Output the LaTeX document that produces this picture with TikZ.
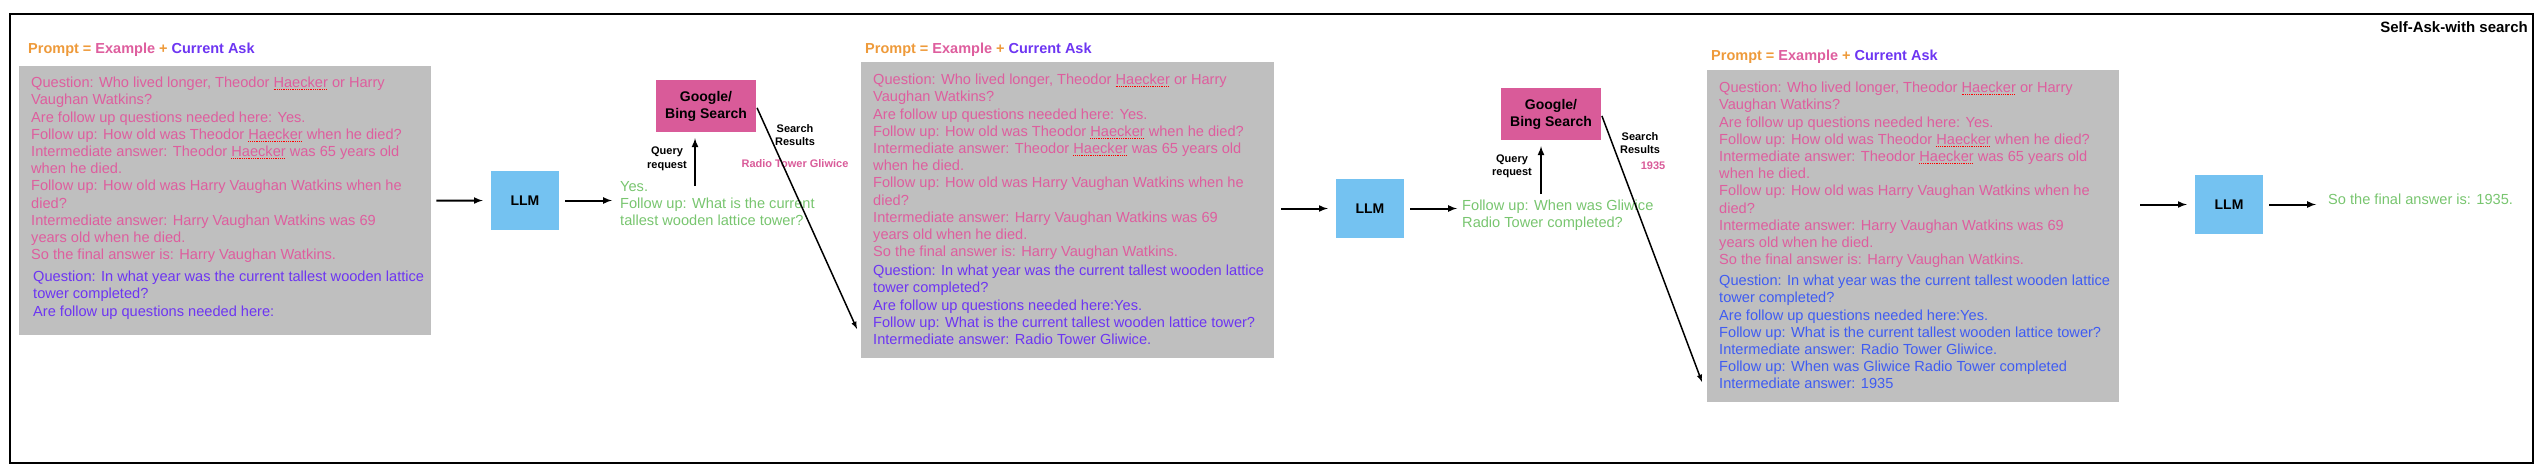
\documentclass[tikz,border=0pt]{standalone}
\usepackage{fontspec}
\setmainfont{Liberation Sans}
\usetikzlibrary{arrows, positioning, calc}

\definecolor{boxgray}{HTML}{BFBFBF}
\definecolor{examplepink}{HTML}{DE5E9E}
\definecolor{searchpink}{HTML}{D95B99}
\definecolor{askpurple}{HTML}{6D35F2}
\definecolor{askblue}{HTML}{3F5CF2}
\definecolor{answergreen}{HTML}{78C56F}
\definecolor{promptorange}{HTML}{EE9A3A}
\definecolor{llmblue}{HTML}{74C2F1}

\tikzset{
    promptBox/.style={rectangle, fill=boxgray, anchor=north west, inner sep=0pt},
    llmBox/.style={rectangle, fill=llmblue, minimum width=68pt, minimum height=59pt, inner sep=0pt, font=\fontsize{14}{17}\selectfont\bfseries},
    searchBox/.style={rectangle, fill=searchpink, minimum width=100pt, minimum height=52pt, inner sep=0pt, align=center, font=\fontsize{14}{17}\selectfont\bfseries},
    headText/.style={anchor=west, inner sep=0pt, font=\fontsize{14.5}{18}\selectfont\bfseries},
    titleText/.style={anchor=east, inner sep=0pt, font=\fontsize{15}{18}\selectfont\bfseries},
    bodyText/.style={anchor=north west, align=left, inner sep=0pt, font=\fontsize{14.6}{17.2}\selectfont},
    edgeText/.style={align=center, inner sep=0pt, font=\fontsize{11}{13.5}\selectfont\bfseries},
    flowEdge/.style={->, >=latex, line width=2pt},
    resultEdge/.style={->, >=latex, line width=1.5pt},
}
\newcommand{\drawFlow}[3][]{
    \draw[flowEdge, #1] (#2) -- (#3);
}
\newcommand{\drawQuery}[2]{
    \draw[flowEdge, shorten >=6pt] (#1) -- (#1 |- #2.south);
}
\newcommand{\drawResult}[2]{
    \draw[resultEdge, shorten <=2pt] (#1.east) -- (#2);
}
\newcommand{\promptHead}{{\color{promptorange}Prompt =} {\color{examplepink}Example} {\color{promptorange}+} {\color{askpurple}Current Ask}}
% red dotted mark under the surname
\newsavebox{\spellbox}
\newcommand{\spellmark}[1]{\sbox{\spellbox}{#1}\rlap{\lower2.5pt\hbox to\wd\spellbox{\color{red}\leaders\hbox{\rule{1pt}{0.8pt}\kern0.8pt}\hfill}}\usebox{\spellbox}}
\newcommand{\exampleText}{Question: Who lived longer, Theodor \spellmark{Haecker} or Harry\\
Vaughan Watkins?\\
Are follow up questions needed here: Yes.\\
Follow up: How old was Theodor \spellmark{Haecker} when he died?\\
Intermediate answer: Theodor \spellmark{Haecker} was 65 years old\\
when he died.\\
Follow up: How old was Harry Vaughan Watkins when he\\
died?\\
Intermediate answer: Harry Vaughan Watkins was 69\\
years old when he died.\\
So the final answer is: Harry Vaughan Watkins.}
\newcommand{\askText}{Question: In what year was the current tallest wooden lattice\\
tower completed?\\
Are follow up questions needed here:}

\begin{document}
\begin{tikzpicture}[x=1pt, y=-1pt]
    \useasboundingbox (0,0) rectangle (2544,474);
    \draw[line width=2.5pt] (10,14) rectangle (2533,463);
    \node[titleText] (title) at (2528,27) {Self-Ask-with search};

    % step 1
    \node[headText] (head1) at (28,50) {\promptHead};
    \node[promptBox, minimum width=412pt, minimum height=269pt] (box1) at (19,66) {};
    \node[bodyText, text=examplepink] (ex1) at (31,77) {\exampleText};
    \node[bodyText, text=askpurple] (ask1) at (33,271) {\askText};
    \node[llmBox] (llm1) at (525,200.5) {LLM};
    \node[bodyText, text=answergreen] (ans1) at (620,181) {Yes.\\Follow up: What is the current\\tallest wooden lattice tower?};
    \node[searchBox] (search1) at (706,106) {Google/\\Bing Search};
    \coordinate (query1) at (695,186);
    \coordinate (result1) at (857,329);
    \node[edgeText] (qlabel1) at (667,159) {Query\\request};
    \node[edgeText] (rlabel1) at (795,135) {Search\\Results};
    \node[edgeText, text=searchpink] (rtext1) at (795,164) {Radio Tower Gliwice};

    \drawFlow[shorten <=5pt, shorten >=8pt]{box1}{llm1}
    \drawFlow[shorten <=6pt, shorten >=8pt]{llm1}{llm1 -| ans1.west}
    \drawQuery{query1}{search1}
    \drawResult{search1}{result1}

    % step 2
    \node[headText] (head2) at (865,50) {\promptHead};
    \node[promptBox, minimum width=413pt, minimum height=296pt] (box2) at (861,62) {};
    \node[bodyText, text=examplepink] (ex2) at (873,74) {\exampleText};
    \node[bodyText, text=askpurple] (ask2) at (873,265) {\askText Yes.\\
        Follow up: What is the current tallest wooden lattice tower?\\
        Intermediate answer: Radio Tower Gliwice.};
    \node[llmBox] (llm2) at (1370,208.5) {LLM};
    \node[bodyText, text=answergreen] (ans2) at (1462,200) {Follow up: When was Gliwice\\Radio Tower completed?};
    \node[searchBox] (search2) at (1551,114) {Google/\\Bing Search};
    \coordinate (query2) at (1541,194);
    \coordinate (result2) at (1702,382);
    \node[edgeText] (qlabel2) at (1512,166.5) {Query\\request};
    \node[edgeText] (rlabel2) at (1640,143) {Search\\Results};
    \node[edgeText, text=searchpink] (rtext2) at (1653,166) {1935};

    \drawFlow[shorten <=7pt, shorten >=8pt]{box2.east |- llm2}{llm2}
    \drawFlow[shorten <=6pt, shorten >=5pt]{llm2}{llm2 -| ans2.west}
    \drawQuery{query2}{search2}
    \drawResult{search2}{result2}

    % step 3
    \node[headText] (head3) at (1711,57) {\promptHead};
    \node[promptBox, minimum width=412pt, minimum height=332pt] (box3) at (1707,70) {};
    \node[bodyText, text=examplepink] (ex3) at (1719,82) {\exampleText};
    \node[bodyText, text=askblue] (ask3) at (1719,275) {\askText Yes.\\
        Follow up: What is the current tallest wooden lattice tower?\\
        Intermediate answer: Radio Tower Gliwice.\\
        Follow up: When was Gliwice Radio Tower completed\\
        Intermediate answer: 1935};
    \node[llmBox] (llm3) at (2229,204.5) {LLM};
    \node[bodyText, text=answergreen] (ans3) at (2328,194) {So the final answer is: 1935.};

    \drawFlow[shorten <=21pt, shorten >=8pt]{box3.east |- llm3}{llm3}
    \drawFlow[shorten <=6pt, shorten >=12pt]{llm3}{llm3 -| ans3.west}

\end{tikzpicture}
\end{document}
